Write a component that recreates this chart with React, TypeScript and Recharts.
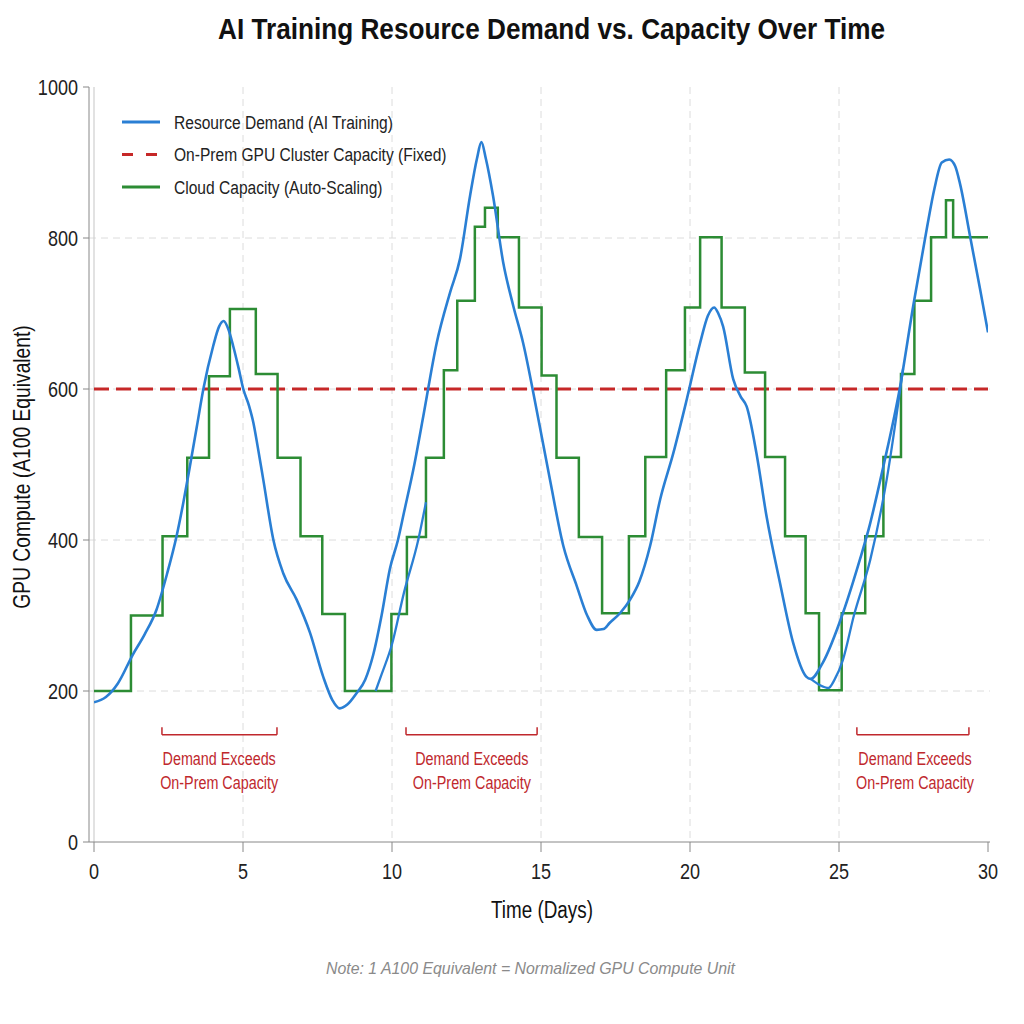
import React from 'react';
import {
  LineChart,
  Line,
  XAxis,
  YAxis,
  CartesianGrid,
  ReferenceLine,
  ReferenceDot,
  Legend,
} from 'recharts';

const FONT = "'Liberation Sans', Arial, sans-serif";
// Horizontal squeeze that gives the condensed lettering
const SQUEEZE = 0.82;
const BLUE = '#2a7fd4';
const RED = '#c62828';
const GREEN = '#2c8c34';
const ANNOT = '#c0282d';

// Resource demand (GPU compute, A100 equivalents) by day
const demandDays = [
  0, 0.4, 0.8, 1.3, 1.7, 2.1, 2.45, 2.77, 3.0, 3.22, 3.45, 3.67, 4.0, 4.2, 4.35, 4.5, 4.67, 4.85,
  5.01, 5.2, 5.35, 5.5, 5.68, 6.02, 6.35, 6.8, 7.25, 7.69, 8.0, 8.25, 8.5, 8.81, 9.1, 9.37, 9.65,
  9.93, 10.2, 10.4, 10.75, 11.05, 11.5, 11.95, 12.28, 12.62, 12.85, 13.0, 13.15, 13.39, 13.73,
  14.07, 14.4, 14.85, 15.3, 15.75, 16.2, 16.55, 16.87, 17.1, 17.3, 17.65, 17.99, 18.3, 18.66, 19.0,
  19.44, 19.89, 20.34, 20.6, 20.81, 20.95, 21.11, 21.45, 21.7, 21.9, 22.23, 22.57, 23.02, 23.46,
  23.9, 24.05, 24.45, 25.13, 25.7, 26.0, 26.48, 27.05, 27.49, 27.94, 28.2, 28.45, 28.7, 28.9,
  29.06, 29.4, 29.73, 30,
];
const demandValues = [
  185, 192, 210, 248, 275, 308, 355, 405, 450, 498, 550, 600, 657, 683, 690, 680, 657, 628,
  600, 578, 555, 522, 480, 400, 356, 321, 277, 219, 188, 177, 182, 197, 215, 248, 300,
  362, 400, 436, 500, 564, 661, 728, 772, 856, 905, 927, 905, 856, 768,
  710, 661, 573, 480, 392, 339, 300, 281, 282, 290, 303, 321, 345, 392, 454,
  515, 586, 661, 697, 708, 700, 683, 613, 590, 577, 515, 431, 343, 264,
  219, 216, 237, 303, 374, 415, 496, 603, 710, 811, 865, 900, 904, 895,
  872, 802, 733, 675,
];

// Secondary demand traces through the two ramp-up troughs
const demandEchoADays = [9.45, 9.65, 10.0, 10.4, 10.88, 11.14];
const demandEchoAValues = [200, 222, 262, 330, 400, 450];
const demandEchoBDays = [24.05, 24.35, 24.65, 24.85, 25.13, 25.5, 26.05, 26.6, 27.15];
const demandEchoBValues = [216, 208, 204, 215, 241, 300, 374, 480, 627];

// Cloud auto-scaling capacity: value holds from each day until the next change
const cloudDays = [
  0, 1.24, 2.3, 3.13, 3.86, 4.56, 5.43, 6.16, 6.93, 7.66, 8.42, 9.98, 10.5, 11.14, 11.74, 12.19,
  12.78, 13.12, 13.55, 14.26, 15.02, 15.52, 16.27, 17.05, 17.95, 18.5, 19.2, 19.83, 20.34, 21.06,
  21.84, 22.52, 23.19, 23.88, 24.33, 25.09, 25.88, 26.49, 27.08, 27.53, 28.09, 28.59, 28.83, 30,
];
const cloudValues = [
  200, 300, 405, 509, 617, 706, 620, 509, 405, 302, 200, 302, 404, 509, 625, 717,
  815, 840, 801, 708, 618, 509, 404, 303, 405, 510, 625, 708, 801, 708,
  622, 510, 405, 303, 201, 303, 405, 510, 620, 717, 801, 850, 801, 801,
];

// Fixed on-prem cluster capacity
const onPremDays = [0, 30];
const onPremValues = [600, 600];

// Periods where demand exceeds on-prem capacity (bracket start/end, label centre)
const exceedStart = [2.28, 10.47, 25.6];
const exceedEnd = [6.14, 14.87, 29.36];
const exceedCenter = [4.2, 12.68, 27.55];
const exceedLines = ['Demand Exceeds', 'On-Prem Capacity'];

const xTicks = [0, 5, 10, 15, 20, 25, 30];
const yTicks = [0, 200, 400, 600, 800, 1000];
const gridX = [5, 10, 15, 20, 25];
const gridY = [200, 400, 600, 800];

const seriesNames = [
  'Resource Demand (AI Training)',
  'On-Prem GPU Cluster Capacity (Fixed)',
  'Cloud Capacity (Auto-Scaling)',
];

const toPoints = (days: number[], values: number[]) =>
  days.map((d, i) => ({ day: d, value: values[i] }));

const demandData = toPoints(demandDays, demandValues);
const echoAData = toPoints(demandEchoADays, demandEchoAValues);
const echoBData = toPoints(demandEchoBDays, demandEchoBValues);
const cloudData = toPoints(cloudDays, cloudValues);
const onPremData = toPoints(onPremDays, onPremValues);

// Condensed text: placed at (x, y), squeezed horizontally about its anchor
const NarrowText = ({
  x,
  y,
  children,
  size,
  anchor = 'start',
  fill = '#222',
  rotate = 0,
  weight,
  style,
  dy,
}: any) => (
  <text
    transform={`translate(${x}, ${y}) rotate(${rotate}) scale(${SQUEEZE}, 1)`}
    x={0}
    y={0}
    dy={dy}
    textAnchor={anchor}
    fontFamily={FONT}
    fontSize={size}
    fontWeight={weight}
    fontStyle={style}
    fill={fill}
  >
    {children}
  </text>
);

const XTick = (props: any) => {
  const { x, y, payload } = props;
  return (
    <NarrowText x={x} y={y} size={22} anchor="middle" dy="0.71em">
      {payload.value}
    </NarrowText>
  );
};

const YTick = (props: any) => {
  const { x, y, payload } = props;
  return (
    <NarrowText x={x} y={y} size={22} anchor="end" dy="0.355em">
      {payload.value}
    </NarrowText>
  );
};

const legendStyles = [
  { color: BLUE, dash: undefined as string | undefined },
  { color: RED, dash: '11 13' },
  { color: GREEN, dash: undefined as string | undefined },
];

const renderLegend = () => (
  <svg width={340} height={90} style={{ display: 'block' }}>
    {seriesNames.map((name, i) => (
      <g key={name} transform={`translate(0, ${10 + i * 32.5})`}>
        <line
          x1={0}
          x2={38}
          y1={0}
          y2={0}
          stroke={legendStyles[i].color}
          strokeWidth={3}
          strokeDasharray={legendStyles[i].dash}
        />
        <NarrowText x={52} y={0} size={19} dy="0.35em">
          {name}
        </NarrowText>
      </g>
    ))}
  </svg>
);

const ExceedLabel = (props: any) => {
  const vb = props.viewBox || {};
  const cx = vb.x + (vb.width || 0) / 2;
  const cy = vb.y + (vb.height || 0) / 2;
  return (
    <g>
      {exceedLines.map((t, i) => (
        <NarrowText key={t} x={cx} y={cy + 30 + i * 24} size={17.5} anchor="middle" fill={ANNOT}>
          {t}
        </NarrowText>
      ))}
    </g>
  );
};

const BRACKET_Y = 142;
const BRACKET_TIP = 152;

export default function App() {
  return (
    <div style={{ position: 'absolute', left: 0, top: 0, width: 1024, height: 1024, background: '#fff' }}>
      <LineChart
        width={1024}
        height={1024}
        margin={{ top: 87, right: 34, bottom: 142, left: 29 }}
      >
        <CartesianGrid
          horizontalValues={gridY}
          verticalValues={gridX}
          stroke="#dcdcdc"
          strokeDasharray="7 5"
        />
        <XAxis
          dataKey="day"
          type="number"
          domain={[0, 30]}
          ticks={xTicks}
          padding={{ left: 5, right: 2 }}
          height={40}
          tickSize={10}
          tickMargin={11}
          stroke="#888"
          tick={<XTick />}
          allowDataOverflow
        />
        <XAxis
          xAxisId="frame"
          orientation="top"
          type="number"
          domain={[0, 30]}
          height={0}
          tick={false}
          tickLine={false}
          axisLine={{ stroke: '#c8c8c8' }}
        />
        <YAxis
          type="number"
          domain={[0, 1000]}
          ticks={yTicks}
          width={60}
          tickSize={6}
          tickMargin={5}
          stroke="#888"
          tick={<YTick />}
          allowDataOverflow
        />
        <YAxis
          yAxisId="frame"
          orientation="right"
          type="number"
          domain={[0, 1000]}
          width={0}
          tick={false}
          tickLine={false}
          axisLine={{ stroke: '#c8c8c8' }}
        />
        <ReferenceLine x={0} stroke="#cfcfcf" strokeWidth={1.2} />

        {exceedStart.map((s, i) => (
          <ReferenceLine
            key={`b${i}`}
            segment={[{ x: s, y: BRACKET_Y }, { x: exceedEnd[i], y: BRACKET_Y }]}
            stroke={ANNOT}
            strokeWidth={1.5}
          />
        ))}
        {exceedStart.map((s, i) => (
          <ReferenceLine
            key={`l${i}`}
            segment={[{ x: s, y: BRACKET_Y }, { x: s, y: BRACKET_TIP }]}
            stroke={ANNOT}
            strokeWidth={1.5}
          />
        ))}
        {exceedEnd.map((e, i) => (
          <ReferenceLine
            key={`r${i}`}
            segment={[{ x: e, y: BRACKET_Y }, { x: e, y: BRACKET_TIP }]}
            stroke={ANNOT}
            strokeWidth={1.5}
          />
        ))}
        {exceedCenter.map((c, i) => (
          <ReferenceDot
            key={`t${i}`}
            x={c}
            y={BRACKET_Y}
            r={0}
            fill="none"
            stroke="none"
            label={<ExceedLabel />}
          />
        ))}

        <Line
          data={onPremData}
          dataKey="value"
          name={seriesNames[1]}
          type="linear"
          stroke={RED}
          strokeWidth={3}
          strokeDasharray="15 7"
          dot={false}
          isAnimationActive={false}
        />
        <Line
          data={cloudData}
          dataKey="value"
          name={seriesNames[2]}
          type="stepAfter"
          stroke={GREEN}
          strokeWidth={2.5}
          dot={false}
          isAnimationActive={false}
        />
        <Line
          data={echoAData}
          dataKey="value"
          type="monotone"
          stroke={BLUE}
          strokeWidth={2.3}
          dot={false}
          legendType="none"
          isAnimationActive={false}
        />
        <Line
          data={echoBData}
          dataKey="value"
          type="monotone"
          stroke={BLUE}
          strokeWidth={2.3}
          dot={false}
          legendType="none"
          isAnimationActive={false}
        />
        <Line
          data={demandData}
          dataKey="value"
          name={seriesNames[0]}
          type="monotone"
          stroke={BLUE}
          strokeWidth={2.6}
          dot={false}
          isAnimationActive={false}
        />
        <Legend
          content={renderLegend}
          layout="horizontal"
          verticalAlign="middle"
          align="center"
          wrapperStyle={{ position: 'absolute', left: 122, top: 112, width: 340, height: 90 }}
        />
      </LineChart>
      <svg
        width={1024}
        height={1024}
        style={{ position: 'absolute', left: 0, top: 0, pointerEvents: 'none' }}
      >
        <text
          x={551.5}
          y={39}
          textAnchor="middle"
          fontFamily={FONT}
          fontWeight="bold"
          fontSize={29}
          fill="#111"
          textLength={667}
          lengthAdjust="spacingAndGlyphs"
        >
          AI Training Resource Demand vs. Capacity Over Time
        </text>
        <NarrowText x={542} y={918} size={23} anchor="middle" fill="#111">
          Time (Days)
        </NarrowText>
        <NarrowText x={30} y={467} size={23.5} anchor="middle" fill="#111" rotate={-90}>
          GPU Compute (A100 Equivalent)
        </NarrowText>
        <text
          x={530.5}
          y={974}
          textAnchor="middle"
          fontFamily={FONT}
          fontStyle="italic"
          fontSize={17}
          fill="#8a8a8a"
          textLength={409}
          lengthAdjust="spacingAndGlyphs"
        >
          Note: 1 A100 Equivalent = Normalized GPU Compute Unit
        </text>
      </svg>
    </div>
  );
}
